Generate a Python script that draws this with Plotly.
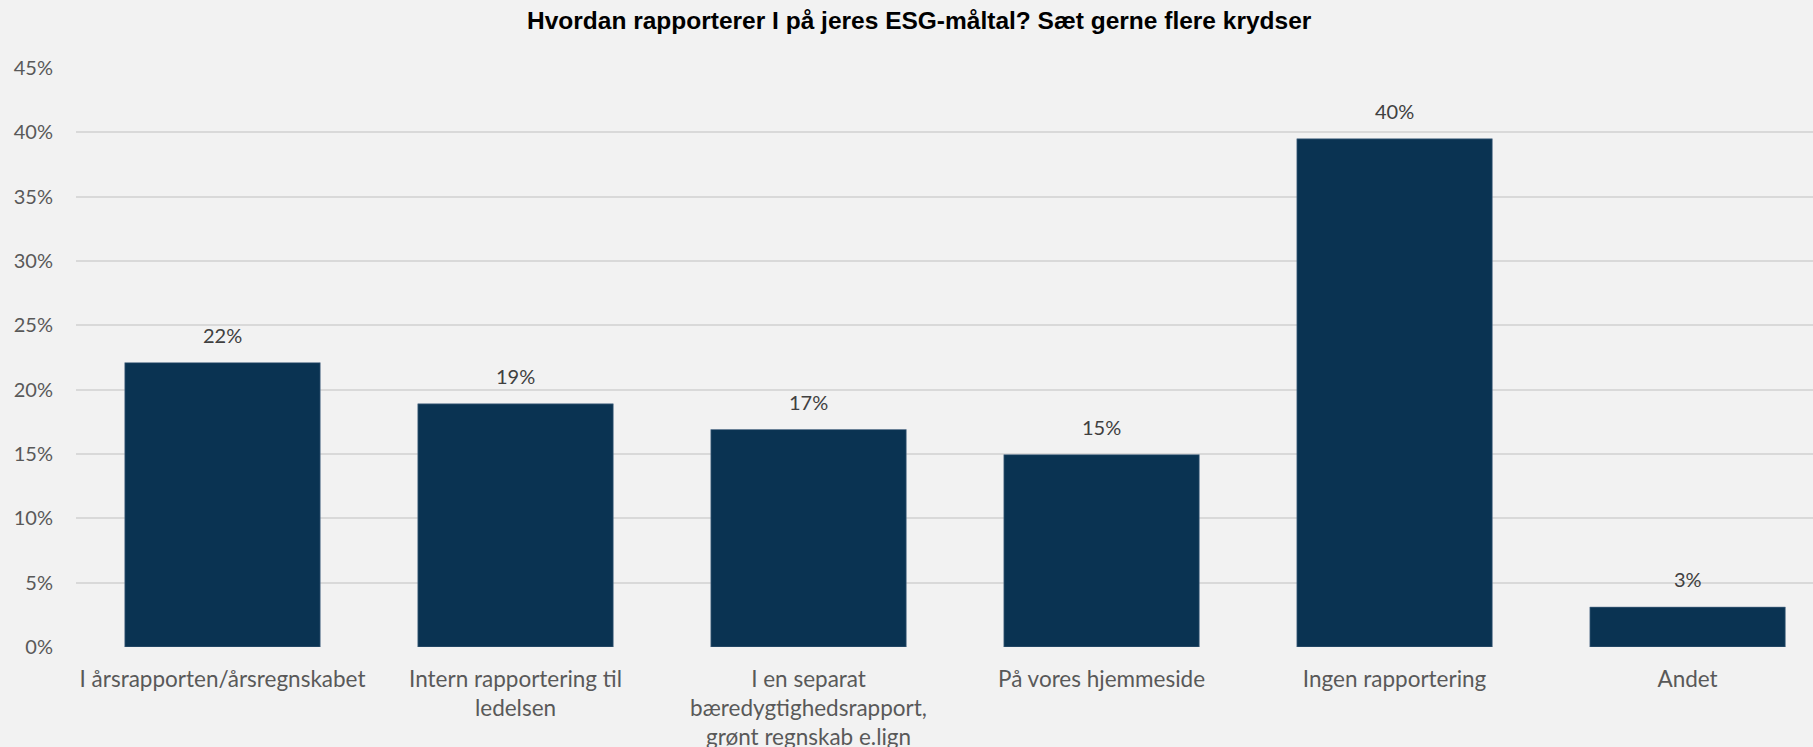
import plotly.graph_objects as go

# data
categories = [
    "I årsrapporten/årsregnskabet",
    "Intern rapportering til<br>ledelsen",
    "I en separat<br>bæredygtighedsrapport,<br>grønt regnskab e.lign",
    "På vores hjemmeside",
    "Ingen rapportering",
    "Andet",
]
shares = [22.1, 18.9, 16.9, 14.95, 39.5, 3.1]
share_labels = ["22%", "19%", "17%", "15%", "40%", "3%"]
y_ticks = [0, 5, 10, 15, 20, 25, 30, 35, 40, 45]

BG = "#f2f2f2"
BAR = "#0a3352"
FONT = "Lato"

fig = go.Figure(
    go.Bar(
        x=list(range(len(categories))),
        y=shares,
        marker=dict(color=BAR, line=dict(color="#5b7590", width=0.6)),
        hoverinfo="skip",
    )
)

# value labels sit a bit higher above the bars than plotly's "outside" text
for i, (v, lab) in enumerate(zip(shares, share_labels)):
    fig.add_annotation(
        x=i, y=v, text=lab, showarrow=False, yanchor="bottom", yshift=14,
        font=dict(family=FONT, size=20, color="#404040"),
    )

fig.update_layout(
    title=dict(
        text="<b>Hvordan rapporterer I på jeres ESG-måltal? Sæt gerne flere krydser</b>",
        x=0.507, xanchor="center", y=0.972, yanchor="middle",
        font=dict(family="Liberation Sans", size=24.5, color="#000000"),
    ),
    paper_bgcolor=BG,
    plot_bgcolor=BG,
    width=1813,
    height=747,
    margin=dict(l=76, r=0, t=68, b=100),
    bargap=0.333,
    showlegend=False,
)
fig.update_xaxes(
    tickvals=list(range(len(categories))),
    ticktext=categories,
    range=[-0.5, 5.428],
    showgrid=False,
    zeroline=False,
    showline=False,
    ticks="",
    automargin=False,
    ticklabelstandoff=16,
    tickfont=dict(family=FONT, size=22.5, color="#595959"),
)
fig.update_yaxes(
    range=[0, 45],
    tickvals=y_ticks,
    ticktext=[f"{t}%" for t in y_ticks],
    showgrid=True,
    gridcolor="#d9d9d9",
    gridwidth=1.5,
    zeroline=False,
    ticks="",
    automargin=False,
    ticklabelstandoff=22,
    tickfont=dict(family=FONT, size=20, color="#595959"),
)

# drop the page's default body margin so the chart fills the window
fig.write_html(
    "out.html",
    config={"displayModeBar": False},
    post_script="document.body.style.margin='0';",
)
